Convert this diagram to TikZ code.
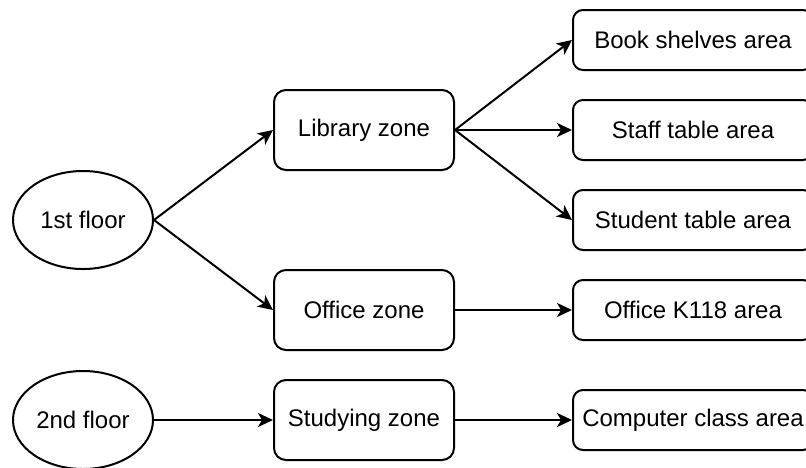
\documentclass[tikz,border=0pt]{standalone}
\usepackage{fontspec}
\setmainfont{Liberation Sans}
\usetikzlibrary{arrows.meta,shapes.geometric}

\begin{document}
\begin{tikzpicture}[x=0.5pt, y=-0.5pt,
    floor/.style={ellipse, draw, line width=1pt, minimum width=70pt, minimum height=49pt, inner sep=0pt},
    zone/.style={rectangle, rounded corners=6pt, draw, line width=1pt, minimum width=90pt, minimum height=40pt},
    area/.style={rectangle, rounded corners=5pt, draw, line width=1pt, minimum width=120pt, minimum height=30pt},
    link/.style={line width=1pt, -{Stealth[length=7.5pt, width=7pt, inset=2pt]}},
    font=\fontsize{12pt}{14pt}\selectfont]
    % Page size of the reference (pixels)
    \clip (0,0) rectangle (806,467);

    % Floors
    \node[floor] (first) at (83, 220) {1st floor};
    \node[floor] (second) at (83, 420) {2nd floor};

    % Zones
    \node[zone] (library) at (364, 130) {Library zone};
    \node[zone] (office) at (364, 310) {Office zone};
    \node[zone] (studying) at (364, 420) {Studying zone};

    % Areas (cut at the right border)
    \node[area] (shelves) at (693, 40) {Book shelves area};
    \node[area] (staff) at (693, 130) {Staff table area};
    \node[area] (student) at (693, 220) {Student table area};
    \node[area] (k118) at (693, 310) {Office K118 area};
    \node[area] (computer) at (693, 420) {Computer class area};

    % Links
    \draw[link] (first.east) -- (library.west);
    \draw[link] (first.east) -- (office.west);
    \draw[link] (second.east) -- (studying.west);
    \draw[link] (library.east) -- (shelves.west);
    \draw[link] (library.east) -- (staff.west);
    \draw[link] (library.east) -- (student.west);
    \draw[link] (office.east) -- (k118.west);
    \draw[link] (studying.east) -- (computer.west);
\end{tikzpicture}
\end{document}
